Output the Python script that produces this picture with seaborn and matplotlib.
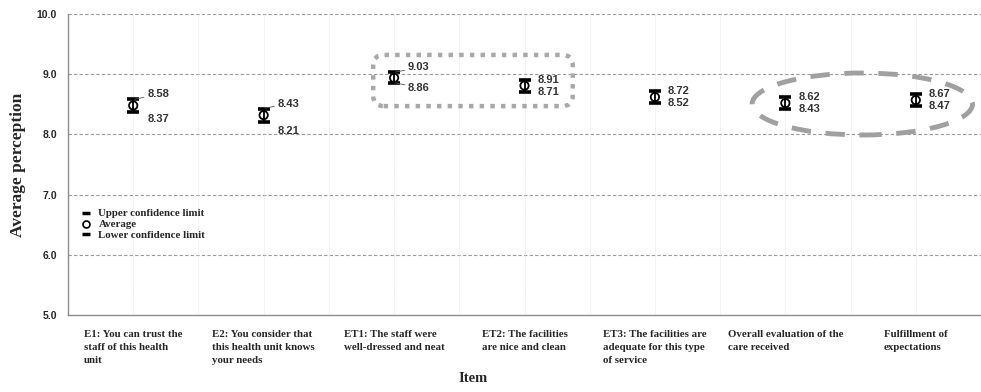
import matplotlib
matplotlib.use("Agg")
import matplotlib.pyplot as plt
import seaborn as sns
import pandas as pd
from matplotlib.patches import FancyBboxPatch, Ellipse
from matplotlib.lines import Line2D

categories = [
    "E1: You can trust the\nstaff of this health\nunit",
    "E2: You consider that\nthis health unit knows\nyour needs",
    "ET1: The staff were\nwell-dressed and neat",
    "ET2: The facilities\nare nice and clean",
    "ET3: The facilities are\nadequate for this type\nof service",
    "Overall evaluation of the\ncare received",
    "Fulfillment of\nexpectations",
]
upper = [8.58, 8.43, 9.03, 8.91, 8.72, 8.62, 8.67]
lower = [8.37, 8.21, 8.86, 8.71, 8.52, 8.43, 8.47]
average = [8.48, 8.32, 8.94, 8.81, 8.62, 8.52, 8.57]

df = pd.DataFrame({"item": categories, "avg": average, "up": upper, "lo": lower})
df["pos"] = range(len(df))

sns.set_theme(style="white")
plt.rcParams["font.family"] = ["Liberation Sans", "DejaVu Sans"]

fig = plt.figure(figsize=(9.81, 3.92), dpi=100)
ax = fig.add_axes([68 / 981, 1 - 315 / 392, (981 - 68) / 981, (315 - 14) / 392])

ax.set_xlim(-0.5, len(df) - 0.5)
ax.set_ylim(5.0, 10.0)

# grid
for yv in [6, 7, 8, 9, 10]:
    ax.axhline(yv, color="#9a9a9a", lw=0.8, ls=(0, (3, 2)), zorder=0)
for xv in [i * 0.5 - 0.5 for i in range(2 * len(df) + 1)]:
    ax.axvline(xv, color="#e6e6e6", lw=0.6, ls=(0, (1, 1)), zorder=0)

# error bars
ax.errorbar(df["pos"], df["avg"],
            yerr=[df["avg"] - df["lo"], df["up"] - df["avg"]],
            fmt="none", ecolor="black", elinewidth=1.3, capsize=4.5, capthick=2.6, zorder=3)
sns.scatterplot(data=df, x="pos", y="avg", ax=ax, marker="o", s=36,
                facecolor="none", edgecolor="black", linewidth=1.3, zorder=4, legend=False)

# value labels
lab_kw = dict(textcoords="offset pixels", fontsize=8, fontweight="bold", color="#333333",
              va="center", ha="left", zorder=5)
lead = dict(arrowstyle="-", color="#555555", lw=0.6, shrinkA=0, shrinkB=1)
offsets_up = [(14, 5), (14, 5), (14, 5), (13, 0), (13, 0), (13, 0), (13, 0)]
offsets_lo = [(14, -7), (14, -9), (14, -5), (13, 0), (13, 0), (13, 0), (13, 0)]
with_lead_up = [True, True, True, False, False, False, False]
with_lead_lo = [False, False, True, False, False, False, False]
for i in range(len(df)):
    ax.annotate(f"{upper[i]:.2f}", xy=(i, upper[i]), xytext=offsets_up[i],
                arrowprops=lead if with_lead_up[i] else None, **lab_kw)
    ax.annotate(f"{lower[i]:.2f}", xy=(i, lower[i]), xytext=offsets_lo[i],
                arrowprops=lead if with_lead_lo[i] else None, **lab_kw)

# highlight shapes
box = FancyBboxPatch((1.84, 8.47), 1.53, 0.85,
                     boxstyle="round,pad=0,rounding_size=0.08", mutation_aspect=2.17,
                     fill=False, edgecolor="#a8a8a8", lw=3.2, ls=(0, (1.0, 1.4)), zorder=2)
ax.add_patch(box)
ell = Ellipse((5.59, 8.505), 1.69, 1.03, fill=False, edgecolor="#a0a0a0",
              lw=3.5, ls=(0, (4, 3)), zorder=2)
ax.add_patch(ell)

# axes styling
for s in ["top", "right"]:
    ax.spines[s].set_visible(False)
for s in ["left", "bottom"]:
    ax.spines[s].set_color("#8c8c8c")
    ax.spines[s].set_linewidth(1.0)

ax.set_yticks([5, 6, 7, 8, 9, 10])
ax.set_yticklabels([f"{v:.1f}" for v in [5, 6, 7, 8, 9, 10]], fontsize=7.5, fontweight="bold")
ax.tick_params(axis="y", length=0, pad=8)

ax.set_xticks(df["pos"])
ax.set_xticklabels(categories, fontsize=7.8, fontweight="bold", family="Liberation Serif",
                   ha="center", va="top", multialignment="left", linespacing=1.55)
ax.tick_params(axis="x", which="major", length=0, pad=11)
ax.set_xticks([i + 0.5 for i in range(len(df) - 1)], minor=True)
ax.tick_params(axis="x", which="minor", length=4, color="#8c8c8c", width=1.0, direction="out")

ax.set_xlabel("Item", family="Liberation Serif", fontweight="bold", fontsize=10.5)
ax.xaxis.set_label_coords((473 - 68) / 913, -(372 - 315) / 301)
ax.set_ylabel("Average perception", family="Liberation Serif", fontweight="bold", fontsize=12.5)
ax.yaxis.set_label_coords(-(68 - 26) / 913, 0.5)

# legend
handles = [
    Line2D([], [], ls="none", marker="_", markersize=6, markeredgewidth=2.5, color="black"),
    Line2D([], [], ls="none", marker="o", markersize=5, markerfacecolor="none",
           markeredgecolor="black", markeredgewidth=1.2),
    Line2D([], [], ls="none", marker="_", markersize=6, markeredgewidth=2.5, color="black"),
]
leg = ax.legend(handles, ["Upper confidence limit", "Average", "Lower confidence limit"],
                loc="upper left", bbox_to_anchor=(0.006, 0.385), frameon=False,
                prop={"family": "Liberation Serif", "weight": "bold", "size": 7.8},
                handlelength=0.6, handletextpad=0.8, labelspacing=0.12, borderaxespad=0.5)

fig.savefig("out.png", dpi=100)
